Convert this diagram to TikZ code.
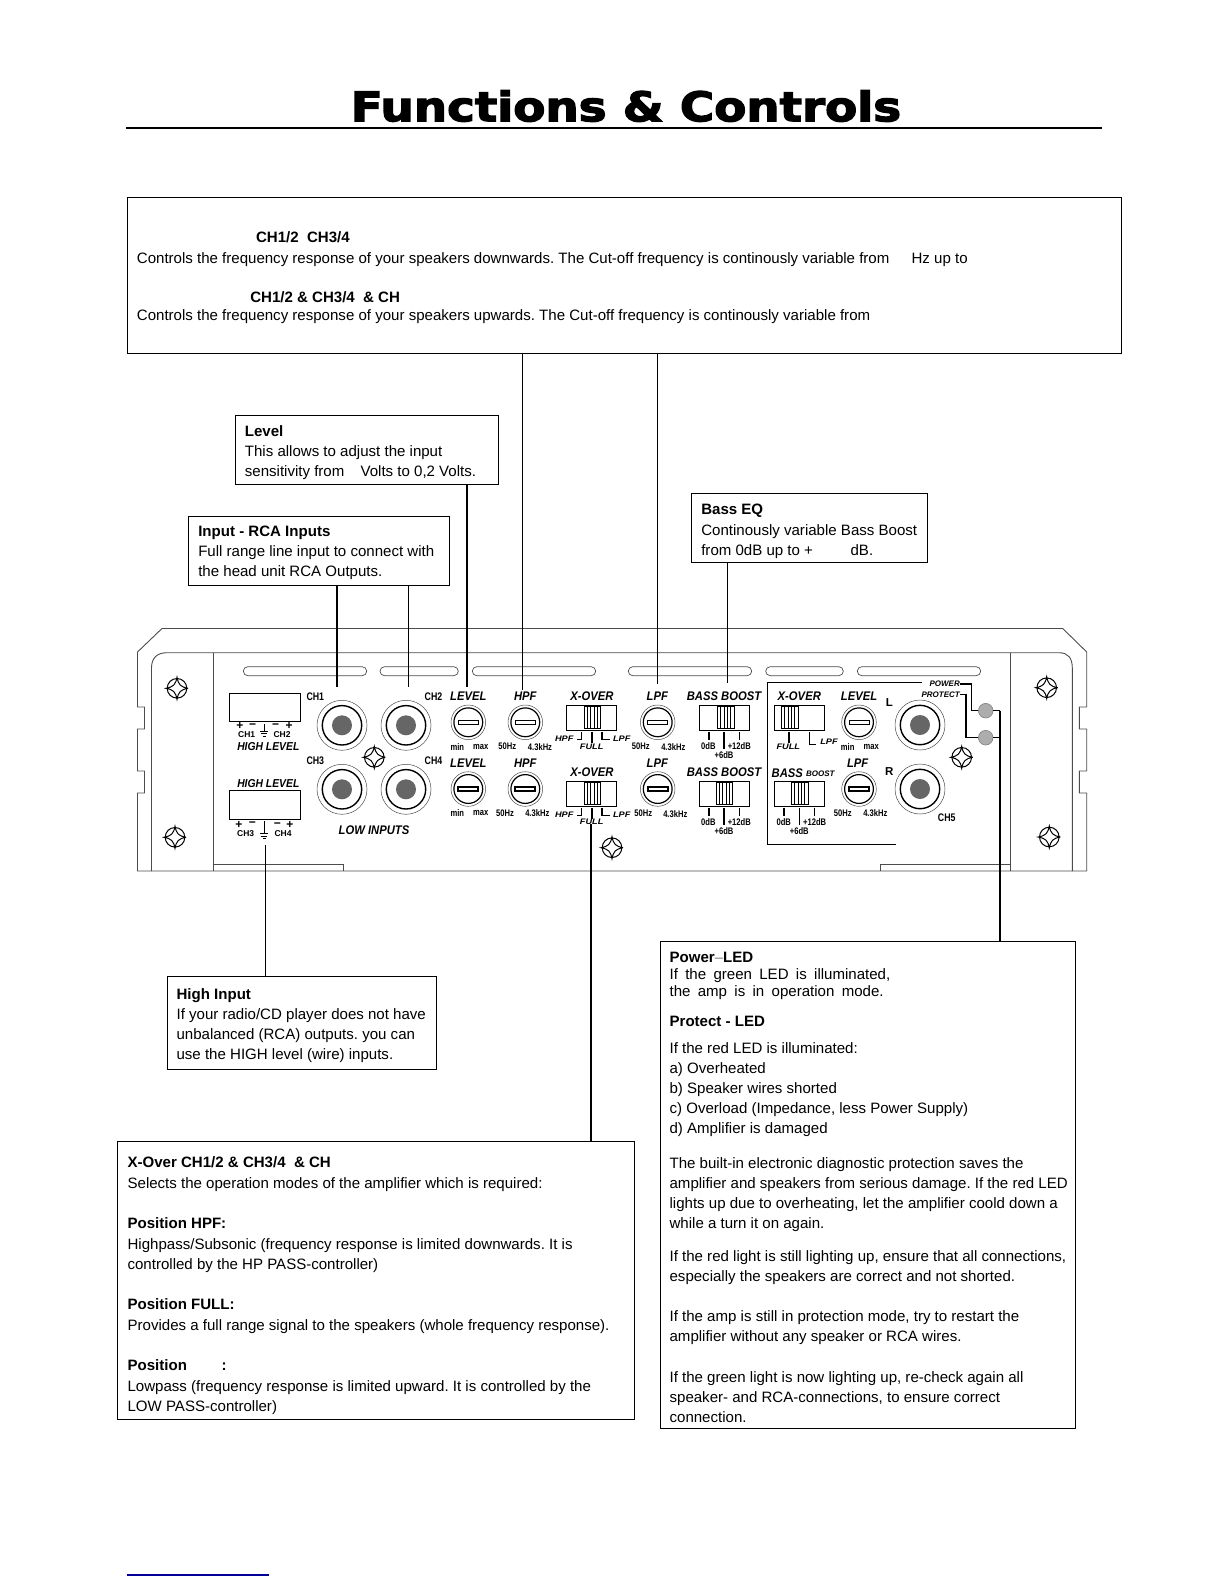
\documentclass[tikz,border=0pt]{standalone}
\usepackage{fontspec}
\usepackage{graphicx}
\setmainfont{Liberation Sans}
\frenchspacing
\newfontfamily\titlefont[FakeBold=3]{DejaVu Sans}
\newfontfamily\narrowfont[FakeStretch=0.8]{Liberation Sans}
\newfontfamily\bigfont[FakeStretch=0.9]{Liberation Sans}
\newfontfamily\widefont[FakeStretch=1.15]{Liberation Sans}
\definecolor{dotgray}{gray}{0.4}
\definecolor{ledgray}{gray}{0.68}
\definecolor{housing}{gray}{0.3}
\tikzset{
    infobox/.style={draw, line width=1pt, inner sep=0pt, outer sep=0pt},
    bodytext/.style={anchor=base west, inner sep=0pt, xshift=-0.6pt, yshift=-0.8pt, font=\fontsize{15.05}{20}\selectfont},
    headtext/.style={bodytext, font=\fontsize{15.05}{20}\selectfont\bfseries},
    ampbig/.style={inner sep=0pt, font=\bigfont\fontsize{12.5}{12.5}\selectfont\bfseries\itshape},
    amphigh/.style={inner sep=0pt, font=\bigfont\fontsize{11.5}{11.5}\selectfont\bfseries\itshape},
    ampsmall/.style={inner sep=0pt, font=\narrowfont\fontsize{9.5}{9.5}\selectfont\bfseries},
    ampch/.style={inner sep=0pt, font=\narrowfont\fontsize{11}{11}\selectfont\bfseries},
    amptiny/.style={inner sep=0pt, font=\widefont\fontsize{8}{8}\selectfont\bfseries\itshape},
    ampmini/.style={inner sep=0pt, font=\fontsize{8}{8}\selectfont\bfseries\itshape},
    termtext/.style={inner sep=0pt, font=\fontsize{8.5}{8.5}\selectfont\bfseries},
    thinlead/.style={line width=1pt},
    thicklead/.style={line width=2pt},
    body/.style={housing, line width=0.9pt},
    led/.style={circle, draw=black!50, fill=ledgray, line width=0.6pt, minimum size=14.6pt, inner sep=0pt, outer sep=0pt},
}
\begin{document}
\begin{tikzpicture}[x=1pt, y=-1pt]
    \useasboundingbox (0,0) rectangle (1224,1584);

    % 标题
    \node[inner sep=0pt] (title) at (626,106) {\resizebox{550pt}{31pt}{\titlefont\bfseries Functions \& Controls}};
    \draw[line width=1.8pt] (126.4,127.7) -- (1102,127.7);
    \draw[line width=1.2pt, blue!60!black] (126.7,1575) -- (269,1575);

    % 外壳
    \draw[body] (162,628.5) -- (1062.7,628.5) -- (1086.7,652) -- (1086.7,707) -- (1079.3,707) -- (1079.3,729)
        -- (1086.7,729) -- (1086.7,771) -- (1079.3,771) -- (1079.3,793) -- (1086.7,793) -- (1086.7,871)
        -- (137.5,871) -- (137.5,793) -- (144.5,793) -- (144.5,771) -- (137.5,771) -- (137.5,729)
        -- (144.5,729) -- (144.5,707) -- (137.5,707) -- (137.5,652) -- cycle;
    \draw[body] (151.5,871) -- (151.5,668) .. controls (151.5,658) and (157,652.7) .. (167,652.7)
        -- (1059,652.7) .. controls (1068,652.7) and (1072.3,658) .. (1072.3,668) -- (1072.3,871);
    \draw[body] (213,652.7) -- (213,871);
    \draw[body] (1010.7,652.7) -- (1010.7,871);
    \draw[body] (213,870.7) -- (213,864.5) -- (343,864.5) -- (343,870.7);
    \draw[body] (880.7,870.7) -- (880.7,864.5) -- (1010.7,864.5);

    % 散热槽
    \foreach \xa/\xb in {243.3/366.7, 380/458.3, 472.3/595.7, 628.3/751.7, 765.7/843.3, 857.3/980.7} {
        \draw[body, line width=0.7pt, rounded corners=4.5pt] (\xa,666.7) rectangle (\xb,675.7);
    }

    % 螺钉
    \foreach \x/\y in {177/688.3, 175/837.3, 374.3/757.3, 612/847.7, 961.7/757.3, 1046.7/687.7, 1049.3/837} {
        \begin{scope}[shift={(\x,\y)}]
            \draw[line width=1pt] (0,0) circle (9.8);
            \draw[line width=1pt] (11,0) .. controls (3.5,-1.5) and (1.5,-3.5) .. (0,-11)
                .. controls (-1.5,-3.5) and (-3.5,-1.5) .. (-11,0)
                .. controls (-3.5,1.5) and (-1.5,3.5) .. (0,11)
                .. controls (1.5,3.5) and (3.5,1.5) .. (11,0);
        \end{scope}
    }

    % RCA 接口
    \foreach \x/\y in {342/725.3, 406/725.3, 342/789.3, 406/789.3, 920/725, 920/789} {
        \draw[line width=0.5pt, black!70] (\x,\y) circle (25);
        \draw[line width=1.4pt] (\x,\y) circle (19.7);
        \fill[dotgray] (\x,\y) circle (10);
    }

    % 旋钮
    \foreach \x in {468.3, 525.3, 657.7, 859} {
        \draw[line width=0.5pt, black!70] (\x,722.3) circle (17.3);
        \draw[line width=1.2pt] (\x,722.3) circle (14.4);
        \draw[line width=0.8pt] (\x-10,720) rectangle (\x+10,724.6);
        \draw[line width=0.5pt, black!70] (\x,789) circle (17.3);
        \draw[line width=1.2pt] (\x,789) circle (14.4);
        \draw[line width=1.7pt] (\x-10,786.7) rectangle (\x+10,791.3);
    }

    % 拨动开关
    \foreach \x/\y/\s in {566.7/705/584, 699.3/705/717.3, 774.3/705/781.3, 566.7/781/584, 699.3/781/716, 774.3/781/791.3} {
        \draw[line width=0.9pt] (\x,\y) rectangle ++(50,25.5);
        \draw[line width=0.9pt] (\s,\y+1.7) rectangle ++(16.7,21.8);
        \foreach \k in {3.3,6.7,10,13.4} {
            \draw[line width=0.7pt] (\s+\k,\y+1.7) -- ++(0,21.8);
        }
    }

    % 开关刻度
    \foreach \y in {731.7, 807.7} {
        \draw[line width=1.3pt] (581.7,\y) -- (581.7,\y+7.6) -- (576.7,\y+7.6);
        \draw[line width=1.3pt] (592,\y) -- (592,\y+11);
        \draw[line width=1.3pt] (602,\y) -- (602,\y+7.6) -- (609.5,\y+7.6);
        \draw[line width=1.3pt] (709,\y) -- (709,\y+8.3);
        \draw[line width=1.3pt] (724,\y) -- (724,\y+17.6);
        \draw[line width=1.3pt] (739.7,\y) -- (739.7,\y+8.3);
    }
    \draw[line width=1.3pt] (789,731.7) -- (789,742.7);
    \draw[line width=1.3pt] (809.3,731.7) -- (809.3,744.3) -- (816,744.3);
    \draw[line width=1.3pt] (784,807.7) -- (784,816);
    \draw[line width=0.8pt] (799.3,807.7) -- (799.3,825.3);
    \draw[line width=1.3pt] (814.7,807.7) -- (814.7,816);

    % 高电平端子
    \draw[line width=0.9pt] (229.3,693.3) rectangle (300.7,721.3);
    \draw[line width=0.9pt] (229.3,790.3) rectangle (300.7,819.3);
    \foreach \y/\d in {724/0, 821/5.5} {
        \draw[line width=0.9pt] (264.3,\y) -- (264.3,\y+7+\d);
        \draw[line width=1pt] (260.3,\y+7+\d) -- (268.3,\y+7+\d);
        \draw[line width=1pt] (261.3,\y+9.5+\d) -- (267.3,\y+9.5+\d);
        \draw[line width=1pt] (262.8,\y+12+\d) -- (265.8,\y+12+\d);
    }
    \foreach \x/\y/\lbl [count=\i] in {240/725.5/+, 252.7/726/−, 275.7/726/−, 289/725.5/+, 239/824.5/+, 252.3/824.5/−, 277.3/825/−, 290/824.5/+} {
        \node[termtext, font=\fontsize{12}{12}\selectfont\bfseries] (sign\i) at (\x,\y) {\lbl};
    }
    \foreach \x/\y/\lbl [count=\i] in {246.7/734.7/CH1, 282/734.7/CH2, 245.7/834/CH3, 283/834/CH4} {
        \node[termtext] (term\i) at (\x,\y) {\lbl};
    }

    % 面板文字
    \foreach \x/\y/\lbl [count=\i] in {468.3/695.7/LEVEL, 525.3/695.7/HPF, 592/695.7/X-OVER, 657.3/695.7/LPF, 724/695.7/BASS BOOST,
        799.3/695.7/X-OVER, 859/695.7/LEVEL, 468.3/762.7/LEVEL, 525.3/762.7/HPF, 592/771.7/X-OVER, 657.3/762.7/LPF, 724/771.7/BASS BOOST,
        857.7/762.7/LPF, 374/830/LOW INPUTS, 787.3/772.7/BASS} {
        \node[ampbig] (big\i) at (\x,\y) {\lbl};
    }
    \node[amphigh] (highlevela) at (268.3,746.7) {HIGH LEVEL};
    \node[amphigh] (highlevelb) at (268.3,783.3) {HIGH LEVEL};
    \node[ampmini] (boostsmall) at (820.3,773.7) {BOOST};
    \foreach \x/\y/\lbl [count=\i] in {315.3/696.7/CH1, 433.5/696.7/CH2, 315.3/760.7/CH3, 433.5/760.7/CH4, 946.7/818/CH5} {
        \node[ampch] (ch\i) at (\x,\y) {\lbl};
    }
    \foreach \x/\y/\lbl [count=\i] in {457.3/746.7/min, 480.7/746.7/max, 507.3/746.7/50Hz, 540/746.7/4.3kHz,
        457.3/813.3/min, 480.7/813.3/max, 505/813.3/50Hz, 537.3/813.3/4.3kHz,
        640.7/746.7/50Hz, 673.3/746.7/4.3kHz, 643.3/813.7/50Hz, 675.3/813.7/4.3kHz,
        847.7/746.7/min, 871.3/746.7/max, 842.7/813.3/50Hz, 875.3/813.3/4.3kHz,
        708.3/745.7/0dB, 739.3/745.7/+12dB, 724/755/+6dB, 708.3/821.7/0dB, 739.3/821.7/+12dB, 724/830.7/+6dB,
        783.7/821.7/0dB, 814.7/821.7/+12dB, 799.3/830.7/+6dB} {
        \node[ampsmall] (small\i) at (\x,\y) {\lbl};
    }
    \foreach \x/\y/\lbl [count=\i] in {564.3/739/HPF, 591.7/747/FULL, 621.7/739/LPF, 564.3/815/HPF, 591.7/821.3/FULL, 621.7/815/LPF,
        788.3/747/FULL, 829/741.7/LPF} {
        \node[amptiny] (tiny\i) at (\x,\y) {\lbl};
    }
    \node[ampch, font=\fontsize{11.5}{11.5}\selectfont\bfseries] (chl) at (889.3,702.7) {L};
    \node[ampch, font=\fontsize{11.5}{11.5}\selectfont\bfseries] (chr) at (889.3,771.7) {R};

    % 右声道边框
    \draw[line width=1.4pt] (921.7,682.7) -- (767.3,682.7) -- (767.3,844.3) -- (896,844.3);

    % 指示灯
    \node[ampmini, anchor=east] (powerlabel) at (960,684) {POWER};
    \node[ampmini, anchor=east] (protectlabel) at (960,694.3) {PROTECT};
    \node[led] (powerled) at (985.7,710.7) {};
    \node[led] (protectled) at (985.7,737.7) {};
    \coordinate (powerbend) at (971.7,700);
    \coordinate (protectbend) at (966,720);
    \draw[line width=1.4pt] (powerlabel.east) -| (powerbend) |- (powerled.west);
    \draw[line width=1.4pt] (protectlabel.east) -| (protectbend) |- (protectled.west);

    % 说明框
    \node[infobox, minimum width=994pt, minimum height=156pt] (topbox) at (624,275) {};
    \node[infobox, minimum width=263pt, minimum height=68.7pt] (levelbox) at (366.8,449.65) {};
    \node[infobox, minimum width=261pt, minimum height=68.6pt] (inputbox) at (318.8,551) {};
    \node[infobox, minimum width=236pt, minimum height=68.6pt] (bassbox) at (809.7,528) {};
    \node[infobox, minimum width=269.1pt, minimum height=93pt] (highbox) at (302.05,1022.8) {};
    \node[infobox, minimum width=517.3pt, minimum height=277.6pt] (xoverbox) at (376.05,1280.5) {};
    \node[infobox, minimum width=415.4pt, minimum height=487pt] (powerbox) at (868,1184.8) {};

    % 引线
    \coordinate (rcatipa) at (336.7,686.7);
    \coordinate (rcatipb) at (408.3,686.7);
    \coordinate (leveltip) at (466.7,687);
    \coordinate (hpftip) at (522.3,690);
    \coordinate (lpftip) at (657.3,684.3);
    \coordinate (basstip) at (727.3,683);
    \coordinate (hightip) at (265.4,845);
    \coordinate (xovertip) at (591,824);
    \coordinate (ledbus) at (1000,710.7);
    \coordinate (ledbusb) at (1000,737.7);
    \draw[thicklead] (inputbox.south -| rcatipa) -- (rcatipa);
    \draw[thinlead] (inputbox.south -| rcatipb) -- (rcatipb);
    \draw[thicklead] (levelbox.south -| leveltip) -- (leveltip);
    \draw[thinlead] (topbox.south -| hpftip) -- (hpftip);
    \draw[thinlead] (topbox.south -| lpftip) -- (lpftip);
    \draw[thinlead] (bassbox.south -| basstip) -- (basstip);
    \draw[thinlead] (highbox.north -| hightip) -- (hightip);
    \draw[thicklead] (xoverbox.north -| xovertip) -- (xovertip);
    \draw[thinlead] (powerled.east) -- (ledbus);
    \draw[thinlead] (protectled.east) -- (ledbusb);
    \draw[thicklead] (ledbus) -- (powerbox.north -| ledbus);

    % 顶部说明
    \node[headtext] (toph1) at (256.5,241.7) {CH1/2\ \ CH3/4};
    \node[bodytext] (topa) at (137.3,262.7) {Controls the frequency response of your speakers downwards. The Cut-off frequency is continously variable from};
    \node[bodytext] (topb) at (912,262.7) {Hz up to};
    \node[headtext] (toph2) at (250.7,301.7) {CH1/2 \& CH3/4\ \ \& CH};
    \node[bodytext] (topc) at (137.3,320) {Controls the frequency response of your speakers upwards. The Cut-off frequency is continously variable from};

    % Level 说明
    \node[headtext] (levelh) at (245.3,435.3) {Level};
    \node[bodytext] (levela) at (245.3,455.7) {This allows to adjust the input};
    \node[bodytext] (levelb) at (245.3,476) {sensitivity from};
    \node[bodytext] (levelc) at (361,476) {Volts to 0,2 Volts.};

    % Input 说明
    \node[headtext] (inputh) at (198.7,535.3) {Input - RCA Inputs};
    \node[bodytext] (inputa) at (198.7,555.7) {Full range line input to connect with};
    \node[bodytext] (inputb) at (198.7,575.7) {the head unit RCA Outputs.};

    % Bass EQ 说明
    \node[headtext] (bassh) at (701.7,513.3) {Bass EQ};
    \node[bodytext] (bassa) at (701.7,534.3) {Continously variable Bass Boost};
    \node[bodytext] (bassb) at (701.7,554.3) {from 0dB up to +};
    \node[bodytext] (bassc) at (851,554.3) {dB.};

    % High Input 说明
    \node[headtext] (highh) at (177,998.3) {High Input};
    \foreach \y/\lbl [count=\i] in {1018.3/{If your radio/CD player does not have}, 1038.3/{unbalanced (RCA) outputs. you can}, 1058.7/{use the HIGH level (wire) inputs.}} {
        \node[bodytext] (high\i) at (177,\y) {\lbl};
    }

    % X-Over 说明
    \foreach \y/\lbl [count=\i] in {1166.7/{X-Over CH1/2 \& CH3/4\ \ \& CH}, 1228/{Position HPF:}, 1309/{Position FULL:}, 1370/{Position}} {
        \node[headtext] (xoverh\i) at (128,\y) {\lbl};
    }
    \node[headtext] (xovercolon) at (222,1370) {:};
    \foreach \y/\lbl [count=\i] in {1187.7/{Selects the operation modes of the amplifier which is required:},
        1248.7/{Highpass/Subsonic (frequency response is limited downwards. It is},
        1268.7/{controlled by the HP PASS-controller)},
        1329.7/{Provides a full range signal to the speakers (whole frequency response).},
        1390.3/{Lowpass (frequency response is limited upward. It is controlled by the},
        1410.7/{LOW PASS-controller)}} {
        \node[bodytext] (xover\i) at (128,\y) {\lbl};
    }

    % LED 说明
    \node[headtext] (powerh) at (670,961.3) {Power\textcolor{gray}{\mdseries–}LED};
    \node[bodytext] (powera) at (670,978.3) {\makebox[220.7pt][s]{If the green LED is illuminated,}};
    \node[bodytext] (powerb) at (670,995.3) {\makebox[214pt][s]{the amp is in operation mode.}};
    \node[headtext] (protecth) at (670,1026) {Protect - LED};
    \foreach \y/\lbl [count=\i] in {1052.3/{If the red LED is illuminated:}, 1072.3/{a) Overheated}, 1092.3/{b) Speaker wires shorted},
        1112.3/{c) Overload (Impedance, less Power Supply)}, 1132.3/{d) Amplifier is damaged},
        1167.7/{The built-in electronic diagnostic protection saves the},
        1187.7/{amplifier and speakers from serious damage. If the red LED},
        1207.7/{lights up due to overheating, let the amplifier coold down a},
        1227.7/{while a turn it on again.},
        1261/{If the red light is still lighting up, ensure that all connections,},
        1281/{especially the speakers are correct and not shorted.},
        1321/{If the amp is still in protection mode, try to restart the},
        1341/{amplifier without any speaker or RCA wires.},
        1381.3/{If the green light is now lighting up, re-check again all},
        1401.3/{speaker- and RCA-connections, to ensure correct},
        1421.3/{connection.}} {
        \node[bodytext] (prot\i) at (670,\y) {\lbl};
    }
\end{tikzpicture}
\end{document}
